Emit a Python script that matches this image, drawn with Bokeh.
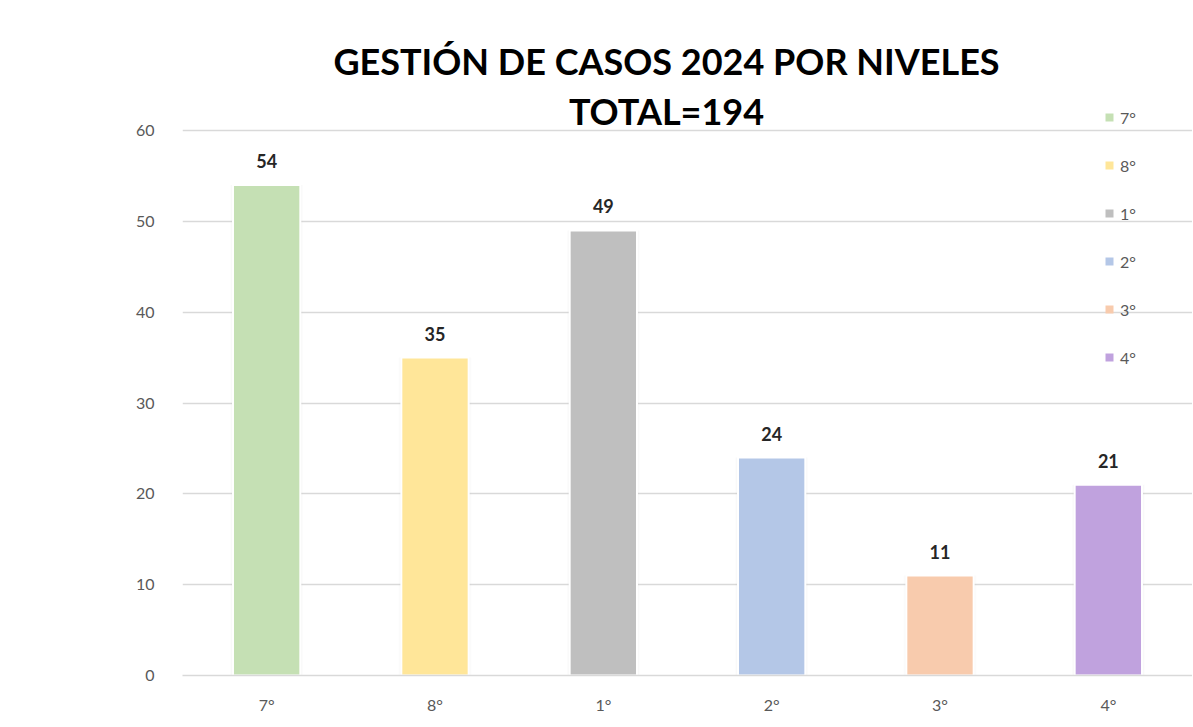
from bokeh.plotting import figure
from bokeh.models import ColumnDataSource, LabelSet, Label, Legend, LegendItem, FixedTicker, Range1d
from bokeh.core.properties import value
from bokeh.embed import file_html
from bokeh.resources import INLINE

# Data
niveles = ["7°", "8°", "1°", "2°", "3°", "4°"]
casos = [54, 35, 49, 24, 11, 21]
colores = ["#C5E0B4", "#FFE699", "#BFBFBF", "#B4C7E7", "#F8CBAD", "#C0A2DE"]
y_ticks = [0, 10, 20, 30, 40, 50, 60]
titulo_1 = "GESTIÓN DE CASOS 2024 POR NIVELES"
titulo_2 = "TOTAL=194"

FONT = "Lato"

FRAME_H = 675       # frame from top of page to the zero line
PX_PER_UNIT = 545 / 60.0
Y_TOP = FRAME_H / PX_PER_UNIT

src = ColumnDataSource(dict(x=niveles, y=casos, color=colores, label=[str(v) for v in casos]))

p = figure(x_range=niveles, y_range=Range1d(0, Y_TOP), width=1192, height=720,
           output_backend="svg", toolbar_location=None,
           min_border_left=182, min_border_right=0, min_border_top=0, min_border_bottom=720 - FRAME_H)
p.outline_line_color = None
p.background_fill_color = "white"
p.border_fill_color = "white"

# shadow layers
for w, a in [(0.43, 0.035), (0.415, 0.05)]:
    p.vbar(x="x", top="y", width=w, source=src, fill_color="#808080", fill_alpha=a, line_color=None)

bars = p.vbar(x="x", top="y", width=0.4, source=src, fill_color="color",
              line_color="white", line_width=2)

labels = LabelSet(x="x", y="y", text="label", source=src, text_align="center",
                  text_baseline="alphabetic", y_offset=17, text_font=value(FONT),
                  text_font_style="bold", text_font_size="18px", text_color="#262626")
p.add_layout(labels)

# axes
p.yaxis.ticker = FixedTicker(ticks=y_ticks)
p.yaxis.axis_line_color = None
p.yaxis.major_tick_line_color = None
p.yaxis.minor_tick_line_color = None
p.yaxis.major_label_text_font = FONT
p.yaxis.major_label_text_font_size = "16px"
p.yaxis.major_label_text_color = "#595959"
p.yaxis.major_label_standoff = 22

p.xaxis.axis_line_color = "#D9D9D9"
p.xaxis.axis_line_width = 1.5
p.xaxis.major_tick_line_color = None
p.xaxis.minor_tick_line_color = None
p.xaxis.major_label_text_font = FONT
p.xaxis.major_label_text_font_size = "16px"
p.xaxis.major_label_text_color = "#595959"
p.xaxis.major_label_standoff = 13

p.xgrid.grid_line_color = None
p.ygrid.grid_line_color = "#D9D9D9"
p.ygrid.grid_line_width = 1.5
p.x_range.range_padding = 0

# title
p.add_layout(Label(x=484, y=615, x_units="screen", y_units="screen", text=titulo_1,
                   text_align="center", text_baseline="middle", text_font=FONT,
                   text_font_style="bold", text_font_size="36px", text_color="#000000"))
p.add_layout(Label(x=484, y=565, x_units="screen", y_units="screen", text=titulo_2,
                   text_align="center", text_baseline="middle", text_font=FONT,
                   text_font_style="bold", text_font_size="36px", text_color="#000000"))

# legend
items = []
for i, n in enumerate(niveles):
    r = p.vbar(x=[niveles[i]], top=[casos[i]], width=0.4,
               fill_color=colores[i], line_color=None, visible=False)
    items.append(LegendItem(label=n, renderers=[r]))
legend = Legend(items=items, location=(922, 308), orientation="vertical",
                glyph_width=10, glyph_height=10, label_height=20, spacing=28,
                padding=0, margin=0, label_standoff=6,
                border_line_color=None, background_fill_alpha=0,
                label_text_font=FONT, label_text_font_size="16px", label_text_color="#595959")
p.add_layout(legend)

open("out.html", "w").write(file_html(p, INLINE))
